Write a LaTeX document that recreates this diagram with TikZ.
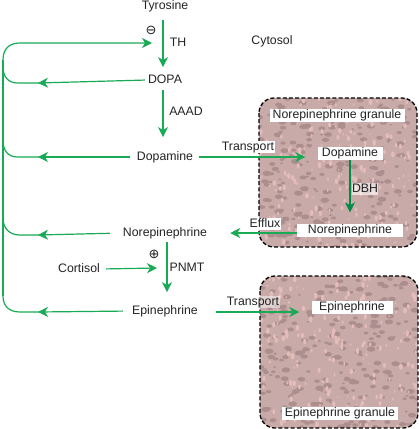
\documentclass[tikz,border=0pt]{standalone}
\usepackage{fontspec}
\setmainfont{Liberation Sans}
\newfontfamily\symfont{DejaVu Sans}
\usetikzlibrary{arrows.meta,calc}
\definecolor{grn}{RGB}{25,170,85}
\definecolor{dgrn}{RGB}{0,140,70}
\definecolor{txt}{RGB}{35,35,35}
\definecolor{gbase}{RGB}{200,170,168}
\definecolor{gdark}{RGB}{172,142,142}
\definecolor{glight}{RGB}{228,188,186}
\tikzset{
  lbl/.style={font=\fontsize{12.3}{14}\selectfont, text=txt, inner sep=1pt, text height=8.8pt, text depth=2.6pt},
  wlbl/.style={lbl, fill=white, inner ysep=0.8pt},
  gline/.style={draw=grn, line width=1.2pt},
  arr/.style={gline, -{Stealth[length=10pt,width=10pt,inset=3pt]}},
  darr/.style={draw=dgrn, line width=1.2pt, -{Stealth[length=10pt,width=10pt,inset=3pt]}},
  border/.style={draw=black, line width=1.3pt, dash pattern=on 4pt off 2.2pt, rounded corners=15pt},
  sym/.style={font=\symfont\fontsize{13}{14}\selectfont, text=txt, inner sep=0pt}
}
\begin{document}
\begin{tikzpicture}[x=1pt,y=-1pt]
\useasboundingbox (0,0) rectangle (419,429);
% granules
\pgfmathsetseed{7}
\begin{scope}
  \clip[rounded corners=15pt] (259,98) rectangle (417,247);
  \fill[gbase] (259,98) rectangle (417,247);
  \foreach \i in {1,...,240} {
    \pgfmathsetmacro\px{259+158*rnd}\pgfmathsetmacro\py{98+149*rnd}\pgfmathsetmacro\rr{1.5+3*rnd}
    \fill[gdark] (\px,\py) ellipse ({\rr} and {0.6*\rr});
  }
  \foreach \i in {1,...,200} {
    \pgfmathsetmacro\px{259+158*rnd}\pgfmathsetmacro\py{98+149*rnd}\pgfmathsetmacro\rr{1+2.2*rnd}
    \fill[glight] (\px,\py) ellipse ({0.6*\rr} and {\rr});
  }
\end{scope}
\begin{scope}
  \clip[rounded corners=15pt] (260,276) rectangle (418,428);
  \fill[gbase] (260,276) rectangle (418,428);
  \foreach \i in {1,...,240} {
    \pgfmathsetmacro\px{260+158*rnd}\pgfmathsetmacro\py{276+152*rnd}\pgfmathsetmacro\rr{1.5+3*rnd}
    \fill[gdark] (\px,\py) ellipse ({\rr} and {0.6*\rr});
  }
  \foreach \i in {1,...,200} {
    \pgfmathsetmacro\px{260+158*rnd}\pgfmathsetmacro\py{276+152*rnd}\pgfmathsetmacro\rr{1+2.2*rnd}
    \fill[glight] (\px,\py) ellipse ({0.6*\rr} and {\rr});
  }
\end{scope}
\draw[border] (259,98) rectangle (417,247);
\draw[border] (260,276) rectangle (418,428);

% nodes
\node[lbl] (tyr) at (165,6) {Tyrosine};
\node[lbl] (dopa) at (165,80) {DOPA};
\node[lbl] (dopam) at (165,157) {Dopamine};
\node[lbl] (nor) at (165,233) {Norepinephrine};
\node[lbl] (epi) at (165,311) {Epinephrine};
\node[lbl] (cort) at (79,269) {Cortisol};
\node[lbl] (cyto) at (272,41) {Cytosol};
\node[lbl] (th) at (178,43) {TH};
\node[lbl] (aaad) at (186,112) {AAAD};
\node[lbl] (pnmt) at (187,268) {PNMT};
\node[sym] (minus) at (151,30) {⊖};
\node[sym] (plus) at (154,254) {⊕};

\node[wlbl, minimum width=135pt] (ngl) at (337,115) {Norepinephrine granule};
\node[wlbl, minimum width=65pt] (gdop) at (350,153) {Dopamine};
\node[wlbl, minimum width=106pt] (gnor) at (350,230) {Norepinephrine};
\node[wlbl, minimum width=81pt] (gepi) at (352,307) {Epinephrine};
\node[wlbl, minimum width=116pt] (egl) at (340,413) {Epinephrine granule};

\coordinate (fbtip) at (152,43);
\coordinate (cortip) at (157,268);
\coordinate (ltop) at (3,60);
\coordinate (lbot) at (3,296);

% pathway arrows
\draw[arr, shorten <=7pt, shorten >=6pt] ([xshift=-2pt]tyr.south) -- ([xshift=-2pt]dopa.north);
\draw[arr, shorten <=3pt, shorten >=13pt] ([xshift=-2pt]dopa.south) -- ([xshift=-2pt]dopam.north);
\draw[arr, shorten <=2pt, shorten >=12pt] ([xshift=2pt]nor.south) -- ([xshift=2pt]epi.north);
\draw[arr, shorten <=5pt] (cort.east) -- (cortip);

% feedback loop
\draw[arr] (ltop) .. controls (3,49) and (9,43) .. (20,43) -- (fbtip);
\draw[gline] (ltop) -- (lbot);
\draw[arr, shorten <=2pt] (dopa.west) -- (38,83);
\draw[gline] (40,83) -- (18,83) .. controls (8,83) and (3,77) .. (3,66);
\draw[arr, shorten <=6pt] (dopam.west) -- (38,157);
\draw[gline] (41,157) -- (18,157) .. controls (8,157) and (3,151) .. (3,140);
\draw[arr, shorten <=12pt] (nor.west) -- (38,235);
\draw[gline] (41,235) -- (20,235) .. controls (9,235) and (3,228) .. (3,218);
\draw[arr, shorten <=8pt] (epi.west) -- (38,312);
\draw[gline] (41,312) -- (20,312) .. controls (9,312) and (3,306) .. (lbot);

% transport / efflux
\draw[arr, shorten <=5pt, shorten >=12pt] (dopam.east) -- (dopam.east -| gdop.west);
\node[lbl, fill=white, inner sep=0.5pt] (tr1) at (248,147) {Transport};
\draw[darr, shorten >=11pt] (gdop.south) -- (gnor.north);
\node[lbl, fill=white, fill opacity=0.6, text opacity=1, inner sep=0.5pt] (dbh) at (365,189) {DBH};
\draw[arr, shorten >=22pt] (gnor.west |- 0,233) -- (nor.east |- 0,233);
\node[lbl, fill=white, inner sep=0.5pt] (eff) at (265,224) {Efflux};
\draw[arr, shorten <=17pt, shorten >=12pt] (epi.east |- 0,312) -- (gepi.west |- 0,312);
\node[lbl, fill=white, fill opacity=0.5, text opacity=1, inner sep=0.5pt] (tr2) at (253,302) {Transport};
\end{tikzpicture}
\end{document}
